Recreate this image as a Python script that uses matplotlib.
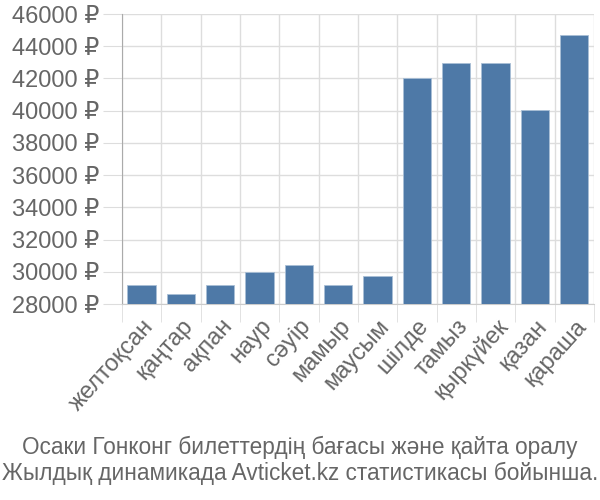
import numpy as np
import matplotlib
matplotlib.use('Agg')
import matplotlib.pyplot as plt

plt.rcParams['font.family'] = ['Liberation Sans', 'DejaVu Sans']

months = ['желтоқсан', 'қаңтар', 'ақпан', 'наур', 'сәуір', 'мамыр',
          'маусым', 'шілде', 'тамыз', 'қыркүйек', 'қазан', 'қараша']
prices = [29180, 28620, 29180, 30000, 30400, 29160,
          29720, 42050, 42960, 42960, 40020, 44680]
yticks = list(range(28000, 46001, 2000))
title = ('Осаки Гонконг билеттердің бағасы және қайта оралу\n'
         'Жылдық динамикада Avticket.kz статистикасы бойынша.')

txt = '#666666'
grid = '#dddddd'
fs = 17

fig = plt.figure(figsize=(6, 5), dpi=100)
ax = fig.add_axes([0.203, 0.392, 0.787, 0.58])

x = np.arange(len(months))
ax.bar(x, np.array(prices) - 28000, bottom=28000, width=0.72,
       color='#4e79a7', edgecolor='#a9bfd6', linewidth=0.6, zorder=3)

ax.set_xlim(-0.5, len(months) - 0.5)
ax.set_ylim(28000, 46000)
ax.set_yticks(yticks)
ax.set_yticklabels([f'{v} ₽' for v in yticks])
ax.set_xticks(x)
ax.set_xticklabels(months, rotation=48, ha='right', rotation_mode='anchor')
ax.set_xticks(np.arange(len(months) + 1) - 0.5, minor=True)

ax.tick_params(axis='y', length=14, color=grid, labelsize=fs,
               labelcolor=txt, pad=2)
ax.tick_params(axis='x', which='major', length=0, labelsize=fs,
               labelcolor=txt, pad=8)
ax.tick_params(axis='x', which='minor', length=13, color=grid)

ax.grid(True, axis='y', color=grid, linewidth=1, zorder=0)
ax.grid(True, axis='x', which='minor', color=grid, linewidth=1, zorder=0)

for s in ['top', 'right']:
    ax.spines[s].set_visible(False)
ax.spines['left'].set_color('#aaaaaa')
ax.spines['bottom'].set_color('#cccccc')

fig.text(0.5, 0.08, title, ha='center', va='center', fontsize=16.3,
         color=txt, linespacing=1.15)

fig.savefig('out.png', dpi=100)
